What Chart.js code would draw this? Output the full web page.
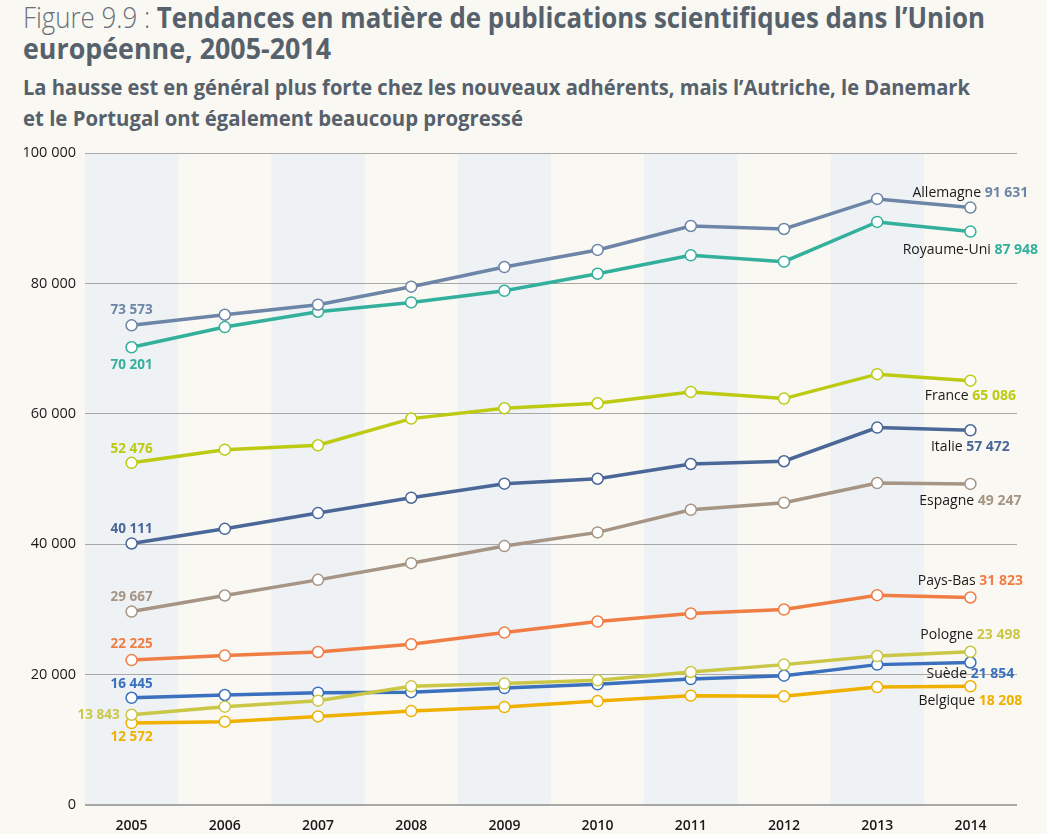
<!DOCTYPE html>
<html lang="fr">
<head>
<meta charset="utf-8">
<title>Figure 9.9</title>
<script src="https://cdn.jsdelivr.net/npm/chart.js@4.4.1/dist/chart.umd.min.js"></script>
<style>
  html, body { margin: 0; padding: 0; background: #faf8f2; }
  body { width: 1047px; height: 834px; position: relative; overflow: hidden; }
  .head {
    position: absolute; left: 23px; margin: 0;
    font-family: 'Open Sans', 'DejaVu Sans', sans-serif;
    font-weight: bold; color: #56616c;
  }
  .head .ln { display: inline-block; white-space: nowrap; transform-origin: 0 50%; }
  .title { top: 1px; font-size: 29px; line-height: 31px; }
  .title .fig { font-weight: 300; color: #66717b; }
  .subtitle { top: 72px; font-size: 21px; line-height: 31px; }
  #chart { position: absolute; left: 0; top: 0; }
</style>
</head>
<body>
<h1 class="head title"><span class="ln" data-w="962"><span class="fig">Figure 9.9 : </span>Tendances en matière de publications scientifiques dans l’Union</span><br><span class="ln" data-w="308">européenne, 2005-2014</span></h1>
<h2 class="head subtitle"><span class="ln" data-w="947">La hausse est en général plus forte chez les nouveaux adhérents, mais l’Autriche, le Danemark</span><br><span class="ln" data-w="500">et le Portugal ont également beaucoup progressé</span></h2>
<canvas id="chart" width="1047" height="834"></canvas>

<script>
// Données : nombre de publications scientifiques, 2005-2014
const years = ['2005', '2006', '2007', '2008', '2009', '2010', '2011', '2012', '2013', '2014'];
const yTicks = [0, 20000, 40000, 60000, 80000, 100000];

const allemagne  = [73573, 75190, 76730, 79500, 82510, 85130, 88810, 88350, 92960, 91631];
const royaumeUni = [70201, 73300, 75650, 77080, 78870, 81480, 84300, 83330, 89430, 87948];
const france     = [52476, 54500, 55170, 59260, 60850, 61620, 63360, 62330, 66080, 65086];
const italie     = [40111, 42360, 44770, 47130, 49280, 50040, 52300, 52720, 57880, 57472];
const espagne    = [29667, 32130, 34530, 37090, 39710, 41810, 45280, 46360, 49380, 49247];
const paysBas    = [22225, 22920, 23470, 24650, 26450, 28140, 29370, 29980, 32180, 31823];
const pologne    = [13843, 15080, 16000, 18200, 18620, 19120, 20400, 21530, 22850, 23498];
const suede      = [16445, 16870, 17230, 17300, 17940, 18510, 19320, 19840, 21530, 21854];
const belgique   = [12572, 12780, 13590, 14410, 15020, 15940, 16770, 16670, 18090, 18208];

const FONT = "'Open Sans', 'DejaVu Sans', sans-serif";
const BAND_COLOR = '#eef2f5';

// titres condensés à la largeur de l'original
document.querySelectorAll('.ln').forEach(el => {
  const w = el.getBoundingClientRect().width;
  el.style.transform = `scaleX(${el.dataset.w / w})`;
});

function fmt(v) {
  return String(v).replace(/\B(?=(\d{3})+(?!\d))/g, ' ');
}

// startDy / endDy : décalage vertical des étiquettes ; startLeft : étiquette à gauche du point
function series(label, data, color, startDy, endDy, startLeft) {
  return {
    label, data,
    borderColor: color,
    backgroundColor: '#ffffff',
    borderWidth: 3.5,
    pointRadius: 5.5,
    pointHoverRadius: 5.5,
    pointBorderWidth: 1.5,
    pointBorderColor: color,
    pointBackgroundColor: '#ffffff',
    tension: 0,
    startDy, endDy, startLeft: !!startLeft,
  };
}

// bandes verticales une année sur deux
const bandsPlugin = {
  id: 'bands',
  beforeDraw(chart) {
    const { ctx, chartArea, scales } = chart;
    const x = scales.x;
    const step = x.getPixelForValue(1) - x.getPixelForValue(0);
    ctx.save();
    ctx.fillStyle = BAND_COLOR;
    years.forEach((y, i) => {
      if (i % 2 !== 0) return;
      const cx = x.getPixelForValue(i);
      ctx.fillRect(cx - step / 2, chartArea.top, step, chartArea.bottom - chartArea.top);
    });
    ctx.restore();
  }
};

// étiquettes de début et de fin de série
const endLabelsPlugin = {
  id: 'endLabels',
  afterDatasetsDraw(chart) {
    const { ctx } = chart;
    ctx.save();
    ctx.textBaseline = 'middle';
    chart.data.datasets.forEach((ds, i) => {
      const meta = chart.getDatasetMeta(i);
      const first = meta.data[0];
      const last = meta.data[meta.data.length - 1];

      // valeur 2005
      ctx.font = `bold 13.5px ${FONT}`;
      ctx.fillStyle = ds.borderColor;
      const v0 = fmt(ds.data[0]);
      if (ds.startLeft) {
        ctx.textAlign = 'right';
        ctx.fillText(v0, first.x - 12, first.y + ds.startDy);
      } else {
        ctx.textAlign = 'center';
        ctx.fillText(v0, first.x, first.y + ds.startDy);
      }

      // nom + valeur 2014
      const name = ds.label + ' ';
      const vN = fmt(ds.data[ds.data.length - 1]);
      ctx.font = `14px ${FONT}`;
      const wName = ctx.measureText(name).width;
      ctx.font = `bold 14px ${FONT}`;
      const wVal = ctx.measureText(vN).width;
      const x0 = last.x - (wName + wVal) / 2;
      const yy = last.y + ds.endDy;
      ctx.textAlign = 'left';
      ctx.font = `14px ${FONT}`;
      ctx.fillStyle = '#1a1a1a';
      ctx.fillText(name, x0, yy);
      ctx.font = `bold 14px ${FONT}`;
      ctx.fillStyle = ds.borderColor;
      ctx.fillText(vN, x0 + wName, yy);
    });
    ctx.restore();
  }
};

new Chart(document.getElementById('chart').getContext('2d'), {
  type: 'line',
  data: {
    labels: years,
    datasets: [
      series('Allemagne',   allemagne,  '#6d85a6', -15, -15),
      series('Royaume-Uni', royaumeUni, '#33b09c', 18, 18),
      series('France',      france,     '#bccb12', -14, 15),
      series('Italie',      italie,     '#4a6797', -14, 17),
      series('Espagne',     espagne,    '#a69584', -14, 17.5),
      series('Pays-Bas',    paysBas,    '#f07d44', -15.5, -16),
      series('Pologne',     pologne,    '#cbc746', 0, -16.5, true),
      series('Suède',       suede,      '#3a70bd', -14, 12),
      series('Belgique',    belgique,   '#f0b000', 14.5, 15),
    ]
  },
  options: {
    responsive: false,
    animation: false,
    devicePixelRatio: 1,
    layout: { padding: { top: 153, right: 30, left: 0, bottom: 0 } },
    plugins: {
      legend: { display: false },
      tooltip: { enabled: false },
    },
    scales: {
      x: {
        offset: true,
        grid: { display: false, drawTicks: false },
        border: { display: false },
        ticks: {
          color: '#1a1a1a',
          font: { family: FONT, size: 14, weight: '600' },
          padding: 13,
          maxRotation: 0,
        },
        afterFit: s => { s.height = 29; },
      },
      y: {
        min: 0, max: 100000,
        afterBuildTicks: s => { s.ticks = yTicks.map(v => ({ value: v })); },
        grid: {
          color: '#a8a8a8',
          lineWidth: c => c.tick && c.tick.value === 0 ? 2 : 1,
          drawTicks: false,
        },
        border: { display: false },
        ticks: {
          color: '#1a1a1a',
          font: { family: FONT, size: 14.5, weight: '500' },
          padding: 9,
          callback: v => fmt(v),
        },
        afterFit: s => { s.width = 85; },
      }
    }
  },
  plugins: [bandsPlugin, endLabelsPlugin]
});
</script>
</body>
</html>
